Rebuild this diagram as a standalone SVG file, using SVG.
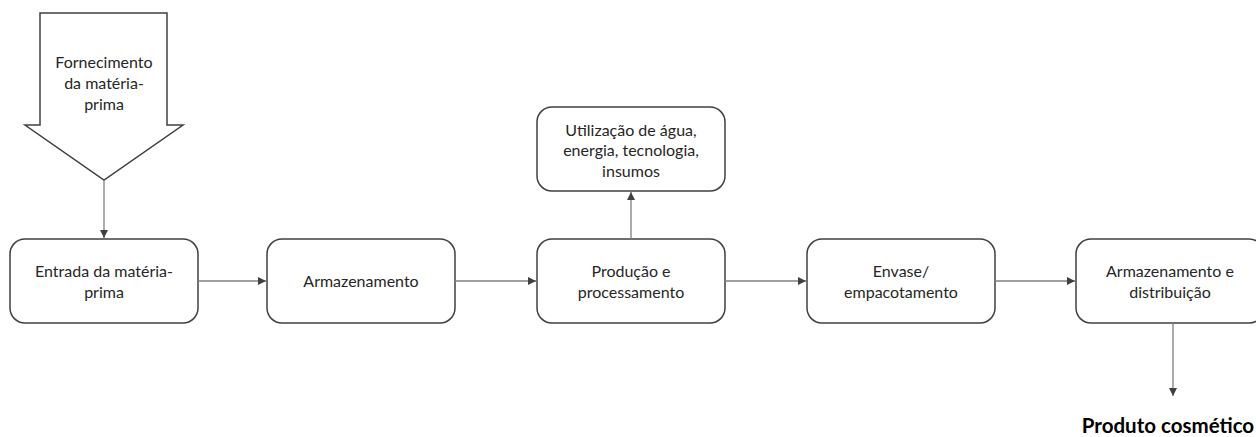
<svg xmlns="http://www.w3.org/2000/svg" width="1256" height="437" viewBox="0 0 1256 437">
<style>
.box{fill:#fff;stroke:#404040;stroke-width:1.5}
.t{font-family:Lato,"Open Sans","Liberation Sans",sans-serif;font-size:16px;fill:#262626;text-anchor:middle}
.b{font-family:Lato,"Open Sans","Liberation Sans",sans-serif;font-size:20.5px;font-weight:bold;fill:#000;text-anchor:middle}
.c{stroke:#7f7f7f;stroke-width:1.3;fill:none;marker-end:url(#ah)}
</style>
<defs>
<marker id="ah" markerWidth="10" markerHeight="10" refX="8" refY="4" orient="auto" markerUnits="userSpaceOnUse">
<path d="M0,0 L8,4 L0,8 Z" fill="#404040"/>
</marker>
</defs>
<rect width="1256" height="437" fill="#fff"/>
<g id="fornecimento">
<polygon class="box" points="40,13 167,13 167,125 183,125 104,180 25,125 40,125"/>
<text class="t" x="104" y="68">Fornecimento</text>
<text class="t" x="104" y="89">da matéria-</text>
<text class="t" x="104" y="110">prima</text>
</g>
<g id="entrada">
<rect class="box" x="10" y="239" width="188" height="84" rx="15"/>
<text class="t" x="104" y="277">Entrada da matéria-</text>
<text class="t" x="104" y="297.5">prima</text>
</g>
<g id="armazenamento">
<rect class="box" x="267" y="239" width="188" height="84" rx="15"/>
<text class="t" x="361" y="287">Armazenamento</text>
</g>
<g id="producao">
<rect class="box" x="537" y="239" width="188" height="84" rx="15"/>
<text class="t" x="631" y="277">Produção e</text>
<text class="t" x="631" y="297.5">processamento</text>
</g>
<g id="utilizacao">
<rect class="box" x="537" y="107" width="188" height="84" rx="15"/>
<text class="t" x="631" y="135.5">Utilização de água,</text>
<text class="t" x="631" y="156">energia, tecnologia,</text>
<text class="t" x="631" y="176.5">insumos</text>
</g>
<g id="envase">
<rect class="box" x="807" y="239" width="188" height="84" rx="15"/>
<text class="t" x="901" y="277">Envase/</text>
<text class="t" x="901" y="297.5">empacotamento</text>
</g>
<g id="distribuicao">
<rect class="box" x="1076" y="239" width="188" height="84" rx="15"/>
<text class="t" x="1170" y="277">Armazenamento e</text>
<text class="t" x="1170" y="297.5">distribuição</text>
</g>
<g id="produto">
<text class="b" x="1168" y="433">Produto cosmético</text>
</g>
<g id="connectors">
<line class="c" x1="104" y1="180" x2="104" y2="238"/>
<line class="c" x1="198" y1="281" x2="266" y2="281"/>
<line class="c" x1="455" y1="281" x2="536" y2="281"/>
<line class="c" x1="631" y1="239" x2="631" y2="192"/>
<line class="c" x1="725" y1="281" x2="806" y2="281"/>
<line class="c" x1="995" y1="281" x2="1075" y2="281"/>
<line class="c" x1="1173" y1="323" x2="1173" y2="396"/>
</g>
</svg>
